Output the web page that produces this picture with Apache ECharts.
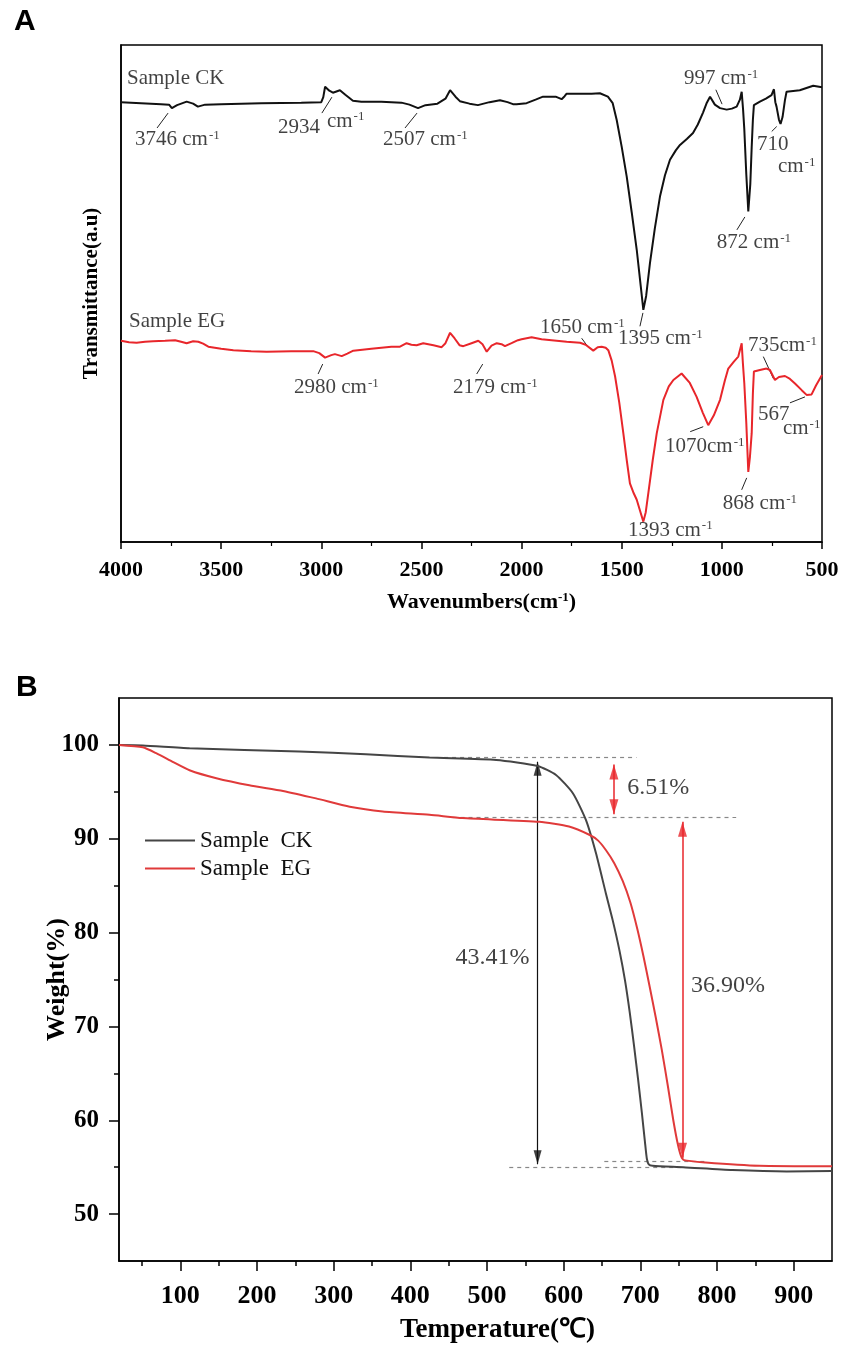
<!DOCTYPE html>
<html>
<head>
<meta charset="utf-8">
<script src="https://cdn.jsdelivr.net/npm/echarts@6/dist/echarts.min.js"></script>
<style>
  html, body { margin: 0; padding: 0; background: #fff; }
  #chart { width: 851px; height: 1350px; }
</style>
</head>
<body>
<div id="chart"></div>
<script>
"use strict";

// ---- panel A: FTIR ----
var ckWn = [4000,3900,3800,3760,3746,3720,3672,3640,3616,3580,3500,3300,3100,3000,2990,2981,2960,2942,2907,2880,2842,2800,2700,2600,2560,2517,2480,2420,2380,2357,2330,2308,2260,2218,2160,2108,2070,2043,2025,1975,1930,1893,1830,1800,1785,1775,1700,1650,1609,1569,1545,1525,1500,1475,1450,1425,1405,1392,1378,1359,1335,1309,1284,1259,1230,1209,1175,1144,1120,1094,1075,1059,1035,1009,976,950,926,910,901,894,888,878,868,858,851,845,840,810,780,752,740,733,727,715,707,697,685,677,611,544,500];
var ckTrans = [88.5,88.3,88.1,88.0,87.3,87.9,88.6,88.2,87.6,88.0,88.1,88.3,88.4,88.5,89.5,91.6,90.8,90.4,90.9,90.0,88.8,88.6,88.6,88.4,88.0,87.3,87.9,88.2,89.2,90.9,89.6,88.7,88.2,87.9,88.5,88.9,88.5,88.1,88.1,88.3,89.0,89.6,89.6,89.1,89.7,90.2,90.2,90.2,90.3,89.6,88.3,84.9,79.5,73.5,66.3,58.8,51.5,46.7,49.5,56.1,63.0,69.5,73.8,76.9,78.8,79.9,81.1,82.3,84.0,86.4,88.4,89.6,88.0,87.3,87.0,87.2,87.6,89.0,90.6,87.0,83.1,74.0,66.5,72.0,79.5,85.0,87.9,88.6,89.2,89.9,91.1,88.5,87.6,85.0,84.1,85.5,88.9,90.6,90.9,91.8,91.5];

var egWn = [4000,3960,3922,3880,3840,3780,3730,3700,3672,3640,3614,3590,3564,3500,3439,3350,3273,3150,3040,3010,2981,2950,2932,2898,2870,2840,2750,2650,2607,2574,2550,2524,2491,2440,2399,2380,2357,2335,2310,2291,2250,2216,2195,2174,2150,2124,2100,2083,2050,2018,2000,1950,1900,1850,1775,1708,1680,1642,1620,1600,1580,1567,1550,1533,1512,1492,1475,1459,1440,1425,1410,1392,1380,1367,1345,1325,1292,1265,1242,1201,1160,1126,1095,1068,1040,1009,985,968,940,918,901,895,888,878,868,860,851,845,840,810,777,760,745,735,715,685,660,635,600,577,552,530,500];
var egTrans = [40.5,40.2,40.1,40.3,40.4,40.5,40.6,40.3,40.0,40.4,40.3,39.9,39.3,38.9,38.6,38.4,38.3,38.4,38.4,38.0,37.1,37.6,37.8,37.4,37.9,38.5,38.9,39.3,39.3,40.0,39.7,39.6,40.0,39.6,39.2,40.0,42.1,41.0,39.6,39.4,40.0,40.5,39.8,38.3,39.5,40.0,39.8,39.4,40.0,40.6,40.8,41.2,40.8,40.6,40.3,40.1,39.7,38.5,39.2,39.3,39.1,38.6,36.5,33.3,28.0,21.9,16.5,11.8,9.8,8.5,6.5,4.1,6.0,9.9,16.5,21.9,28.6,31.3,32.6,33.9,32.0,29.2,26.0,23.5,25.5,28.6,32.5,34.9,36.3,37.3,40.0,36.0,32.0,24.0,14.1,17.0,21.9,30.0,34.3,34.6,34.9,34.6,33.4,32.6,33.2,33.4,32.8,31.9,30.5,29.6,29.7,31.5,33.6];

// peak labels [wavenumber, transmittance, text]
var ftirLabels = [
  [3970, 93.2, "Sample CK"],
  [3930, 80.9, "3746 cm-1"],
  [3216, 83.5, "2934"],
  [2972, 84.7, "cm-1"],
  [2692, 80.9, "2507 cm-1"],
  [1189, 93.2, "997 cm-1"],
  [825, 79.9, "710"],
  [720, 75.5, "cm-1"],
  [1025, 60.2, "872 cm-1"],
  [1519, 40.9, "1395 cm-1"],
  [3960, 44.3, "Sample EG"],
  [3136, 31.0, "2980 cm-1"],
  [2342, 31.0, "2179 cm-1"],
  [1908, 43.1, "1650 cm-1"],
  [1469, 2.4, "1393 cm-1"],
  [1284, 19.2, "1070cm-1"],
  [995, 7.8, "868 cm-1"],
  [870, 39.6, "735cm-1"],
  [820, 25.6, "567"],
  [695, 22.9, "cm-1"]
];
// leader lines [wn1, t1, wn2, t2]
var ftirLeaders = [
  [3765, 86.3, 3820, 83.3],
  [2947, 89.5, 2997, 86.3],
  [2522, 86.3, 2582, 83.3],
  [1030, 91.0, 999, 88.1],
  [726, 83.6, 751, 82.6],
  [885, 65.4, 925, 62.8],
  [1394, 46.1, 1409, 43.4],
  [2993, 35.8, 3016, 33.8],
  [2194, 35.8, 2224, 33.8],
  [1700, 41.0, 1669, 39.3],
  [1158, 22.2, 1093, 23.2],
  [876, 12.9, 901, 10.5],
  [793, 37.3, 743, 32.9],
  [660, 28.0, 585, 29.2]
];

// ---- panel B: TGA ----
var ckTemp = [20,51,112,255,342,425,512,566,590,612,629,642,655,664,673,680,686,692,697,702,706,708.5,711,716,756,820,891,950];
var ckWeight = [100,99.95,99.65,99.3,99.0,98.65,98.4,97.76,96.8,94.85,92.0,88.5,84.2,81.3,78.0,74.9,71.6,67.8,64.4,60.8,57.7,55.9,55.3,55.15,55.0,54.7,54.55,54.6];
var egTemp = [20,51,69,90,112,147,190,234,277,321,364,425,468,568,607,634,645,655,666,677,687,696,704,712,720,728,736,743,749,753,757,785,855,950];
var egWeight = [100,99.75,99.1,98.2,97.3,96.45,95.7,95.1,94.3,93.4,92.9,92.55,92.2,91.8,91.3,90.4,89.8,88.8,87.4,85.5,83.2,80.4,77.5,74.3,71.0,67.5,63.6,60.0,57.4,56.2,55.75,55.5,55.15,55.1];

var tempMajor = [100,200,300,400,500,600,700,800,900];
var tempMinor = [50,150,250,350,450,550,650,750,850];
var weightMajor = [50,60,70,80,90,100];
var weightMinor = [55,65,75,85,95];

// dashed guides [t1, w1, t2, w2]
var guides = [
  [444, 98.65, 695, 98.65],
  [455, 92.3, 825, 92.3],
  [529, 55.0, 763, 55.0],
  [653, 55.6, 785, 55.6]
];
// arrows [t, top tip weight, bottom tip weight]
var blackArrows = [[566, 98.2, 55.3]];
var redArrows = [
  [665.5, 97.9, 92.6],
  [755, 91.8, 56.0]
];
var lossLabels = [
  [683, 95.4, "6.51%"],
  [459, 77.3, "43.41%"],
  [766, 74.3, "36.90%"]
];

var SERIF = "Liberation Serif";
var RED = "#e8262b";

function zip(a, b) {
  return a.map(function (v, i) { return [v, b[i]]; });
}
function segs(list) {
  return list.map(function (s) { return { coords: [[s[0], s[1]], [s[2], s[3]]] }; });
}
function shafts(list) {
  return list.map(function (a) { return { coords: [[a[0], a[1]], [a[0], a[2]]] }; });
}
// arrow heads: tip sits on the end point
function heads(list, h) {
  var out = [];
  list.forEach(function (a) {
    out.push({ value: [a[0], a[1]], symbolRotate: 0, symbolOffset: [0, h / 2] });
    out.push({ value: [a[0], a[2]], symbolRotate: 180, symbolOffset: [0, -h / 2] });
  });
  return out;
}
function supText(s) {
  var i = s.indexOf("-1");
  if (i < 0) return "{t|" + s + "}";
  return "{t|" + s.slice(0, i) + "}{s|-1}";
}

var chart = echarts.init(document.getElementById("chart"));

var labelRich = {
  t: { fontFamily: SERIF, fontSize: 21, color: "#111" },
  s: { fontFamily: SERIF, fontSize: 13, color: "#111", verticalAlign: "top", padding: [0, 0, 0, 1] }
};

chart.setOption({
  animation: false,
  title: [
    { text: "A", left: 9, top: 2, textStyle: { fontFamily: "Liberation Sans", fontWeight: "bold", fontSize: 30, color: "#000" } },
    { text: "B", left: 11, top: 668, textStyle: { fontFamily: "Liberation Sans", fontWeight: "bold", fontSize: 30, color: "#000" } }
  ],
  legend: {
    data: ["Sample  CK", "Sample  EG"],
    orient: "vertical",
    left: 140,
    top: 824,
    icon: "rect",
    itemWidth: 50,
    itemHeight: 2,
    itemGap: 5,
    textStyle: { fontFamily: SERIF, fontSize: 23, color: "#111", lineHeight: 22 }
  },
  grid: [
    { left: 121, top: 45, width: 701, height: 497, show: true, borderColor: "#000", borderWidth: 1.5, containLabel: false },
    { left: 119, top: 698, width: 713, height: 563, show: true, borderColor: "#000", borderWidth: 1.5, containLabel: false }
  ],
  xAxis: [
    {
      gridIndex: 0, type: "value", min: 500, max: 4000, interval: 500, inverse: true, position: "bottom",
      axisLine: { onZero: false, lineStyle: { color: "#000", width: 1.5 } },
      axisTick: { length: 7, lineStyle: { color: "#000", width: 1.5 } },
      minorTick: { show: true, splitNumber: 2, length: 4, lineStyle: { color: "#000", width: 1.2 } },
      axisLabel: {
        fontFamily: SERIF, fontWeight: "bold", fontSize: 22, color: "#000", margin: 17,
        formatter: function (v) { return String(v); }
      },
      splitLine: { show: false },
      name: "{a|Wavenumbers(cm}{s|-1}{a|)}",
      nameLocation: "middle",
      nameGap: 49,
      nameTextStyle: {
        padding: [0, 0, 0, 20],
        rich: {
          a: { fontFamily: SERIF, fontWeight: "bold", fontSize: 22, color: "#000" },
          s: { fontFamily: SERIF, fontWeight: "bold", fontSize: 13, color: "#000", verticalAlign: "top" }
        }
      }
    },
    {
      gridIndex: 1, type: "value", min: 20, max: 950, position: "bottom",
      axisLine: { onZero: false, lineStyle: { color: "#000", width: 1.5 } },
      axisTick: { customValues: tempMajor, length: 10, lineStyle: { color: "#000", width: 1.5 } },
      axisLabel: { customValues: tempMajor, fontFamily: SERIF, fontWeight: "bold", fontSize: 26, color: "#000", margin: 22 },
      splitLine: { show: false },
      name: "Temperature(℃)",
      nameLocation: "middle",
      nameGap: 56,
      nameTextStyle: { fontFamily: SERIF, fontWeight: "bold", fontSize: 27, color: "#000", padding: [0, 0, 0, 44] }
    },
    {
      gridIndex: 1, type: "value", min: 20, max: 950, position: "bottom",
      axisLine: { show: false, onZero: false },
      axisTick: { customValues: tempMinor, length: 5, lineStyle: { color: "#000", width: 1.5 } },
      axisLabel: { show: false },
      splitLine: { show: false }
    }
  ],
  yAxis: [
    {
      gridIndex: 0, type: "value", min: 0, max: 100, position: "left",
      axisLine: { show: true, onZero: false, lineStyle: { color: "#000", width: 1.5 } },
      axisTick: { show: false },
      axisLabel: { show: false },
      splitLine: { show: false },
      name: "Transmittance(a.u)",
      nameLocation: "middle",
      nameGap: 19,
      nameTextStyle: { fontFamily: SERIF, fontWeight: "bold", fontSize: 21, color: "#000" }
    },
    {
      gridIndex: 1, type: "value", min: 45, max: 105, position: "left",
      axisLine: { show: true, onZero: false, lineStyle: { color: "#000", width: 1.5 } },
      axisTick: { customValues: weightMajor, length: 10, lineStyle: { color: "#000", width: 1.5 } },
      axisLabel: { customValues: weightMajor, fontFamily: SERIF, fontWeight: "bold", fontSize: 25, color: "#000", margin: 20 },
      splitLine: { show: false },
      name: "Weight(%)",
      nameLocation: "middle",
      nameGap: 49,
      nameMoveOverlap: false,
      nameTextStyle: { fontFamily: SERIF, fontWeight: "bold", fontSize: 26, color: "#000" }
    },
    {
      gridIndex: 1, type: "value", min: 45, max: 105, position: "left",
      axisLine: { show: false, onZero: false },
      axisTick: { customValues: weightMinor, length: 5, lineStyle: { color: "#000", width: 1.5 } },
      axisLabel: { show: false },
      splitLine: { show: false }
    }
  ],
  series: [
    {
      name: "FTIR CK", type: "line", xAxisIndex: 0, yAxisIndex: 0,
      data: zip(ckWn, ckTrans), showSymbol: false, symbol: "none",
      lineStyle: { color: "#111", width: 2 }, silent: true
    },
    {
      name: "FTIR EG", type: "line", xAxisIndex: 0, yAxisIndex: 0,
      data: zip(egWn, egTrans), showSymbol: false, symbol: "none",
      lineStyle: { color: RED, width: 2 }, silent: true
    },
    {
      name: "leaders", type: "lines", coordinateSystem: "cartesian2d", xAxisIndex: 0, yAxisIndex: 0,
      data: segs(ftirLeaders), symbol: "none",
      lineStyle: { color: "#222", width: 1, opacity: 1 }, silent: true
    },
    {
      name: "peak labels", type: "scatter", xAxisIndex: 0, yAxisIndex: 0,
      symbolSize: 0, silent: true,
      data: ftirLabels.map(function (d) { return { value: [d[0], d[1]], name: d[2] }; }),
      label: {
        show: true, position: "right", distance: 0,
        formatter: function (p) { return supText(p.name); },
        rich: labelRich
      }
    },
    {
      name: "Sample  CK", type: "line", xAxisIndex: 1, yAxisIndex: 1,
      data: zip(ckTemp, ckWeight), showSymbol: false, symbol: "none",
      smooth: 0.2,
      itemStyle: { color: "#454545" },
      lineStyle: { color: "#454545", width: 2 }, silent: true
    },
    {
      name: "Sample  EG", type: "line", xAxisIndex: 1, yAxisIndex: 1,
      data: zip(egTemp, egWeight), showSymbol: false, symbol: "none",
      smooth: 0.2,
      itemStyle: { color: "#e03a3a" },
      lineStyle: { color: "#e03a3a", width: 2 }, silent: true
    },
    {
      name: "guides", type: "lines", coordinateSystem: "cartesian2d", xAxisIndex: 1, yAxisIndex: 1,
      data: segs(guides), symbol: "none",
      lineStyle: { color: "#888", width: 1.2, type: [4, 4], opacity: 1 }, silent: true
    },
    {
      name: "black shafts", type: "lines", coordinateSystem: "cartesian2d", xAxisIndex: 1, yAxisIndex: 1,
      data: shafts(blackArrows), symbol: "none",
      lineStyle: { color: "#111", width: 1.2, opacity: 1 }, silent: true
    },
    {
      name: "black heads", type: "scatter", xAxisIndex: 1, yAxisIndex: 1,
      symbol: "triangle", symbolSize: [8, 14], silent: true,
      itemStyle: { color: "#111" },
      data: heads(blackArrows, 14)
    },
    {
      name: "red shafts", type: "lines", coordinateSystem: "cartesian2d", xAxisIndex: 1, yAxisIndex: 1,
      data: shafts(redArrows), symbol: "none",
      lineStyle: { color: RED, width: 1.5, opacity: 1 }, silent: true
    },
    {
      name: "red heads", type: "scatter", xAxisIndex: 1, yAxisIndex: 1,
      symbol: "triangle", symbolSize: [9, 15], silent: true,
      itemStyle: { color: RED },
      data: heads(redArrows, 15)
    },
    {
      name: "loss labels", type: "scatter", xAxisIndex: 1, yAxisIndex: 1,
      symbolSize: 0, silent: true,
      data: lossLabels.map(function (d) { return { value: [d[0], d[1]], name: d[2] }; }),
      label: {
        show: true, position: "right", distance: 0,
        formatter: "{b}",
        fontFamily: SERIF, fontSize: 24, color: "#111"
      }
    }
  ]
});
</script>
</body>
</html>
